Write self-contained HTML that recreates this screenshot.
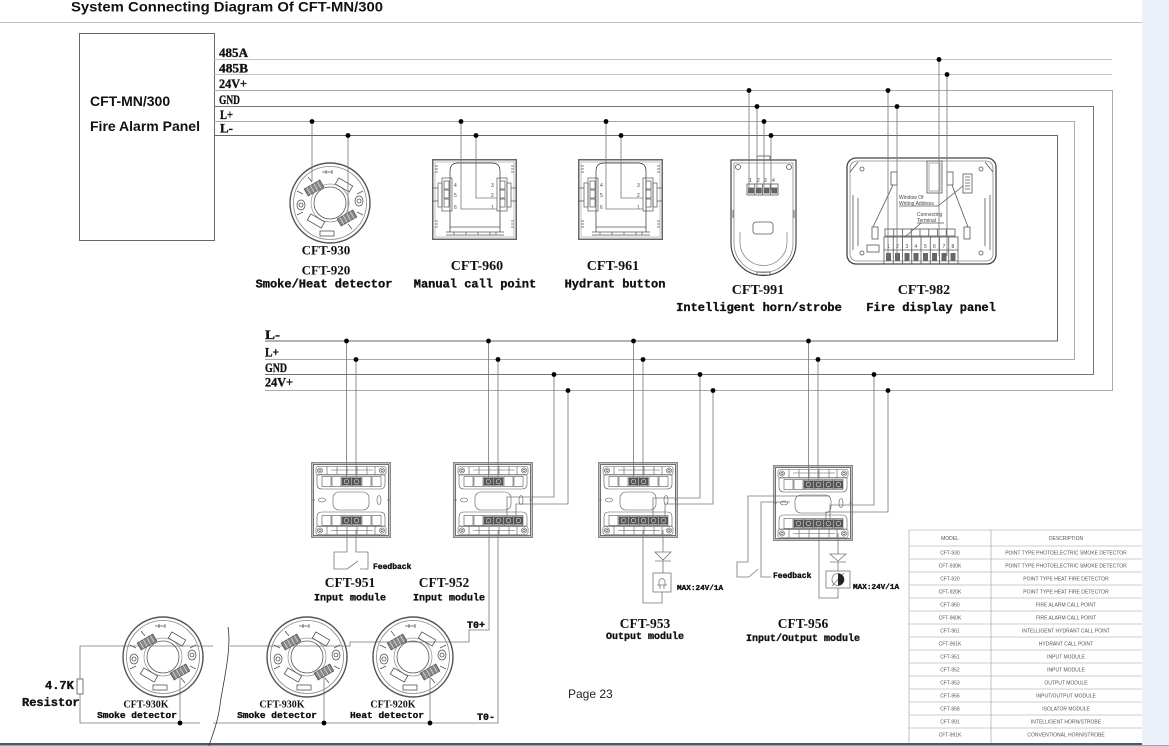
<!DOCTYPE html>
<html><head><meta charset="utf-8"><title>System Connecting Diagram Of CFT-MN/300</title>
<style>
html,body{margin:0;padding:0;background:#fff;width:1169px;height:746px;overflow:hidden}
svg{display:block}
.ar{font-family:"Liberation Sans",Arial,sans-serif;font-weight:bold;fill:#111}
.bus{font-family:"Liberation Serif",serif;font-weight:bold;font-size:13px;fill:#111;stroke:#111;stroke-width:0.35}
.cap{font-family:"Liberation Serif",serif;font-weight:bold;fill:#111;text-anchor:middle}
.mono{font-family:"Liberation Mono",monospace;font-weight:bold;fill:#111;stroke:#111;stroke-width:0.35}
.mid{text-anchor:middle}
.tb{font-family:"Liberation Sans",sans-serif;font-size:5px;fill:#555;text-anchor:middle}
.sm{font-family:"Liberation Sans",sans-serif;font-size:5px;fill:#444}
</style></head><body>
<svg width="1169" height="746" viewBox="0 0 1169 746" xmlns="http://www.w3.org/2000/svg" xmlns:xlink="http://www.w3.org/1999/xlink">
<defs>
 <g id="det" fill="none" stroke="#555" stroke-width="0.8">
  <circle r="40" stroke-width="1.4" stroke="#555"/>
  <circle r="36.5" stroke="#888"/>
  <circle r="19" stroke="#999"/>
  <circle r="16" stroke="#555"/>
  <ellipse cx="-29" cy="2" rx="4" ry="5"/>
  <ellipse cx="29" cy="-2" rx="4" ry="5"/>
  <circle cx="-29" cy="2" r="2"/>
  <circle cx="29" cy="-2" r="2"/>
  <g transform="translate(-16,-15) rotate(-30)"><rect x="-9" y="-4" width="18" height="8" fill="#888"/><path d="M-6,-4V4 M-2,-4V4 M2,-4V4 M6,-4V4" stroke="#ddd"/></g>
  <g transform="translate(17,15) rotate(-30)"><rect x="-9" y="-4" width="18" height="8" fill="#888"/><path d="M-6,-4V4 M-2,-4V4 M2,-4V4 M6,-4V4" stroke="#ddd"/></g>
  <g transform="translate(14,-18) rotate(30)"><rect x="-8" y="-3.5" width="16" height="7"/></g>
  <g transform="translate(-14,18) rotate(30)"><rect x="-8" y="-3.5" width="16" height="7"/></g>
  <path d="M-22,-26 L-18,-21 M22,26 L18,21 M-33,-12 L-27,-9 M33,12 L27,9 M-33,12 L-27,9 M33,-12 L27,-9"/>
  <path d="M-8,-31 H2 M-4,-33 V-29 M2,-33 V-29"/>
  <rect x="-10" y="28" width="14" height="5"/>
 </g>
 <g id="mod" fill="none" stroke="#555" stroke-width="0.6">
  <rect x="0.75" y="0.75" width="78.5" height="74.5" stroke="#8a8a8a" stroke-width="1.5"/>
  <rect x="2.5" y="2.5" width="75" height="71" stroke="#333" stroke-width="0.7"/>
  <rect x="5" y="4.5" width="70" height="8" rx="2"/>
  <circle cx="9" cy="8.5" r="2.6"/><circle cx="9" cy="8.5" r="1.2"/>
  <circle cx="71" cy="8.5" r="2.6"/><circle cx="71" cy="8.5" r="1.2"/>
  <path d="M16,4.5V12.5 M26,4.5V12.5 M36,4.5V12.5 M46,4.5V12.5 M56,4.5V12.5 M64,4.5V12.5 M20,8H62"/>
  <path d="M6,13 H74 V22 Q74,27 69,27 H11 Q6,27 6,22 Z"/>
  <rect x="11" y="14.5" width="9" height="10"/><rect x="21" y="14.5" width="9" height="10"/><rect x="31" y="14.5" width="9" height="10"/><rect x="41" y="14.5" width="9" height="10"/><rect x="51" y="14.5" width="9" height="10"/><rect x="61" y="14.5" width="9" height="10"/>
  <rect x="22" y="30" width="36" height="18" rx="6"/>
  <ellipse cx="11" cy="38" rx="3.5" ry="2"/>
  <ellipse cx="68" cy="38" rx="2" ry="4.5"/>
  <path d="M1,38 H4 M76,38 H79"/>
  <path d="M6,64 H74 V55 Q74,50 69,50 H11 Q6,50 6,55 Z"/>
  <rect x="11" y="53.5" width="9" height="10"/><rect x="21" y="53.5" width="9" height="10"/><rect x="31" y="53.5" width="9" height="10"/><rect x="41" y="53.5" width="9" height="10"/><rect x="51" y="53.5" width="9" height="10"/><rect x="61" y="53.5" width="9" height="10"/>
  <rect x="5" y="64.5" width="70" height="8" rx="2"/>
  <circle cx="9" cy="68.5" r="2.6"/><circle cx="9" cy="68.5" r="1.2"/>
  <circle cx="71" cy="68.5" r="2.6"/><circle cx="71" cy="68.5" r="1.2"/>
  <path d="M16,64.5V72.5 M26,64.5V72.5 M36,64.5V72.5 M46,64.5V72.5 M56,64.5V72.5 M64,64.5V72.5 M20,68.5H62"/>
 </g>
 <g id="tf"><rect x="0" y="0" width="9" height="8" fill="#555"/><circle cx="4.5" cy="4" r="2.3" fill="none" stroke="#ddd" stroke-width="0.6"/></g>
 <g id="cp" fill="none" stroke="#555" stroke-width="0.7">
  <rect x="0.75" y="0.75" width="83.5" height="79.5" stroke="#666" stroke-width="1.5"/>
  <rect x="3" y="3" width="79" height="75" stroke="#999" stroke-width="0.6"/>
  <path d="M18,73 V12 Q18,4 26,4 H60 Q68,4 68,12 V73" stroke="#333"/>
  <path d="M18,68 H68 M14,73 H72 M14,76 H72"/>
  <rect x="10" y="19" width="10" height="33"/>
  <rect x="12" y="22" width="5" height="8"/><rect x="12" y="31" width="5" height="8"/><rect x="12" y="40" width="5" height="8"/>
  <rect x="6" y="24" width="4" height="24"/>
  <rect x="65" y="19" width="10" height="33"/>
  <rect x="68" y="22" width="5" height="8"/><rect x="68" y="31" width="5" height="8"/><rect x="68" y="40" width="5" height="8"/>
  <rect x="75" y="24" width="4" height="24"/>
  <path d="M0,29 H6 M0,42 H6 M79,29 H85 M79,42 H85"/>
  <path d="M3,7H6 M3,10H6 M3,13H6 M79,7H82 M79,10H82 M79,13H82 M3,62H6 M3,65H6 M3,68H6 M79,62H82 M79,65H82 M79,68H82"/>
  <path d="M22,73 V76 M34,73V76 M46,73V76 M58,73V76 M64,73V76"/>
 </g>
</defs>

<!-- right panel and frame lines -->
<rect x="1142" y="0" width="27" height="746" fill="#EBF0F9"/>
<line x1="0" y1="22.5" x2="1142" y2="22.5" stroke="#c3c3c3" stroke-width="1"/>
<rect x="0" y="743" width="1142" height="2" fill="#4b5868"/>
<rect x="0" y="745" width="1169" height="1" fill="#9aa6b4"/>

<text x="71" y="11.5" class="ar" font-size="14" textLength="312" lengthAdjust="spacingAndGlyphs">System Connecting Diagram Of CFT-MN/300</text>

<!-- panel box -->
<rect x="79.5" y="33.5" width="135" height="207" fill="none" stroke="#666" stroke-width="1"/>
<text x="90" y="106" class="ar" font-size="14">CFT-MN/300</text>
<text x="90" y="131" class="ar" font-size="14">Fire Alarm Panel</text>

<!-- bus lines -->
<g fill="none" stroke-width="1">
 <path d="M214,59.5 H1112" stroke="#c4c4c4"/>
 <path d="M214,74.5 H1112" stroke="#c4c4c4"/>
 <path d="M214,90.5 H1112.5 V390.5 H265" stroke="#aaa"/>
 <path d="M214,106.5 H1093.5 V374.5 H265" stroke="#777"/>
 <path d="M214,121.5 H1074.5 V359.5 H265" stroke="#aaa"/>
 <path d="M214,135.5 H1057.5 V341 H265" stroke="#666"/>
</g>
<text x="219" y="57" class="bus" textLength="29" lengthAdjust="spacingAndGlyphs">485A</text>
<text x="219" y="72.5" class="bus" textLength="29" lengthAdjust="spacingAndGlyphs">485B</text>
<text x="219" y="88" class="bus" textLength="28" lengthAdjust="spacingAndGlyphs">24V+</text>
<text x="219" y="104" class="bus" textLength="21" lengthAdjust="spacingAndGlyphs">GND</text>
<text x="220" y="119" class="bus" textLength="13" lengthAdjust="spacingAndGlyphs">L+</text>
<text x="220" y="132.5" class="bus" textLength="13" lengthAdjust="spacingAndGlyphs">L-</text>

<text x="265" y="339" class="bus" textLength="15" lengthAdjust="spacingAndGlyphs">L-</text>
<text x="265" y="356.5" class="bus" textLength="14" lengthAdjust="spacingAndGlyphs">L+</text>
<text x="265" y="372" class="bus" textLength="22" lengthAdjust="spacingAndGlyphs">GND</text>
<text x="265" y="386.5" class="bus" textLength="28" lengthAdjust="spacingAndGlyphs">24V+</text>

<!-- top devices -->
<use xlink:href="#det" href="#det" x="330" y="203"/>
<use xlink:href="#cp" href="#cp" x="432" y="159"/>
<use xlink:href="#cp" href="#cp" x="578" y="159"/>

<g class="sm">
 <text x="454" y="187">4</text><text x="454" y="197">5</text><text x="454" y="209">6</text>
 <text x="491" y="187">3</text><text x="491" y="197">2</text><text x="491" y="209">1</text>
 <text x="600" y="187">4</text><text x="600" y="197">5</text><text x="600" y="209">6</text>
 <text x="637" y="187">3</text><text x="637" y="197">2</text><text x="637" y="209">1</text>
</g>

<!-- horn strobe -->
<g fill="none" stroke="#555" stroke-width="0.8">
 <rect x="757" y="156" width="13" height="4"/>
 <path d="M731,160 H796 V243 A32.5,32.5 0 0 1 731,243 Z" stroke="#444" stroke-width="1.2"/>
 <path d="M734,163 H793 V243 A29.5,29.5 0 0 1 734,243 Z" stroke="#888"/>
 <path d="M740,232 V242 A23.5,23.5 0 0 0 787,242 V232" stroke="#888"/>
 <circle cx="738" cy="167" r="2.5"/><circle cx="789" cy="167" r="2.5"/>
 <rect x="747" y="184" width="31" height="11"/>
 <path d="M754.75,184V195 M762.5,184V195 M770.25,184V195"/>
 <rect x="748.5" y="188" width="5" height="5" fill="#666"/><rect x="756.25" y="188" width="5" height="5" fill="#666"/><rect x="764" y="188" width="5" height="5" fill="#666"/><rect x="771.75" y="188" width="5" height="5" fill="#666"/>
 <rect x="753" y="222" width="20" height="12" rx="3"/>
 <path d="M733,210V218 M794,210V218"/>
 <rect x="757" y="272" width="13" height="3"/>
</g>
<g class="sm"><text x="749" y="182">1</text><text x="757" y="182">2</text><text x="764" y="182">3</text><text x="772" y="182">4</text></g>

<!-- display panel -->
<g fill="none" stroke="#555" stroke-width="0.8">
 <rect x="847" y="158" width="149" height="106" rx="9" stroke="#444" stroke-width="1.3"/>
 <rect x="850" y="161" width="143" height="100" rx="7" stroke="#888"/>
 <path d="M850,172 L858,162 M993,172 L985,162"/>
 <path d="M853,195 V250 M858,198 V246 M990,195 V250 M985,198 V246"/>
 <circle cx="862" cy="169" r="2"/><circle cx="981" cy="169" r="2"/><circle cx="862" cy="253" r="2"/><circle cx="981" cy="253" r="2"/>
 <rect x="927" y="161" width="15" height="32"/>
 <rect x="929" y="163" width="11" height="28" stroke="#999"/>
 <rect x="963" y="174" width="9" height="19"/>
 <path d="M965,177H970 M965,180H970 M965,183H970 M965,186H970 M965,189H970"/>
 <rect x="891" y="172" width="6" height="13"/>
 <rect x="947" y="172" width="6" height="13"/>
 <line x1="893" y1="185" x2="873" y2="227"/>
 <line x1="952" y1="185" x2="968" y2="227"/>
 <rect x="872" y="227" width="6" height="12"/>
 <rect x="964" y="227" width="6" height="12"/>
 <rect x="867" y="245" width="12" height="7"/>
 <rect x="885" y="229" width="70" height="7"/>
 <path d="M893.75,229V236 M902.5,229V236 M911.25,229V236 M920,229V236 M928.75,229V236 M937.5,229V236 M946.25,229V236"/>
 <rect x="884" y="237" width="74" height="27"/>
 <path d="M893.25,237V264 M902.5,237V264 M911.75,237V264 M921,237V264 M930.25,237V264 M939.5,237V264 M948.75,237V264"/>
 <path d="M884,250H958"/>
 <path d="M899,206H938 L963,186 M917,223H944 M921,223 L905,237"/>
</g>
<g fill="#666">
 <rect x="886" y="253" width="5" height="8"/><rect x="895" y="253" width="5" height="8"/><rect x="904.5" y="253" width="5" height="8"/><rect x="913.5" y="253" width="5" height="8"/><rect x="923" y="253" width="5" height="8"/><rect x="932" y="253" width="5" height="8"/><rect x="941.5" y="253" width="5" height="8"/><rect x="950.5" y="253" width="5" height="8"/>
</g>
<g class="sm">
 <text x="899" y="199">Window Of</text>
 <text x="899" y="205">Writing Address</text>
 <text x="917" y="216">Connecting</text>
 <text x="917" y="222">Terminal</text>
 <text x="887" y="248">1</text><text x="896" y="248">2</text><text x="905.5" y="248">3</text><text x="914.5" y="248">4</text><text x="924" y="248">5</text><text x="933" y="248">6</text><text x="942.5" y="248">7</text><text x="951.5" y="248">8</text>
</g>

<!-- top drop wires -->
<g fill="none" stroke="#777" stroke-width="0.8">
 <path d="M312,121.5 V181"/>
 <path d="M348,135.5 V214"/>
 <path d="M461,121.5 V209 H497"/>
 <path d="M476,135.5 V198 H497"/>
 <path d="M606,121.5 V209 H643"/>
 <path d="M621,135.5 V198 H643"/>
 <path d="M749,90.5 V190"/>
 <path d="M757,106.5 V190"/>
 <path d="M764,121.5 V190"/>
 <path d="M771,135.5 V190"/>
 <path d="M888,90.5 V256"/>
 <path d="M897,106.5 V256"/>
 <path d="M939,59.5 V256"/>
 <path d="M947,74.5 V256"/>
</g>
<g fill="#000">
 <circle cx="312" cy="121.5" r="2.4"/><circle cx="348" cy="135.5" r="2.4"/>
 <circle cx="461" cy="121.5" r="2.4"/><circle cx="476" cy="135.5" r="2.4"/>
 <circle cx="606" cy="121.5" r="2.4"/><circle cx="621" cy="135.5" r="2.4"/>
 <circle cx="749" cy="90.5" r="2.4"/><circle cx="757" cy="106.5" r="2.4"/><circle cx="764" cy="121.5" r="2.4"/><circle cx="771" cy="135.5" r="2.4"/>
 <circle cx="888" cy="90.5" r="2.4"/><circle cx="897" cy="106.5" r="2.4"/><circle cx="939" cy="59.5" r="2.4"/><circle cx="947" cy="74.5" r="2.4"/>
</g>

<!-- top captions -->
<text x="326" y="254.5" class="cap" font-size="13">CFT-930</text>
<text x="326" y="274.5" class="cap" font-size="13">CFT-920</text>
<text x="324" y="287.5" class="mono mid" font-size="12">Smoke/Heat detector</text>
<text x="477" y="270" class="cap" font-size="14">CFT-960</text>
<text x="475" y="287.5" class="mono mid" font-size="12">Manual call point</text>
<text x="613" y="270" class="cap" font-size="14">CFT-961</text>
<text x="615" y="287.5" class="mono mid" font-size="12">Hydrant button</text>
<text x="758" y="294" class="cap" font-size="14">CFT-991</text>
<text x="759" y="311" class="mono mid" font-size="12">Intelligent horn/strobe</text>
<text x="924" y="294" class="cap" font-size="14">CFT-982</text>
<text x="931" y="311" class="mono mid" font-size="12">Fire display panel</text>

<!-- modules -->
<use xlink:href="#mod" href="#mod" x="311" y="462"/>
<use xlink:href="#mod" href="#mod" x="453" y="462"/>
<use xlink:href="#mod" href="#mod" x="598" y="462"/>
<use xlink:href="#mod" href="#mod" x="773" y="465"/>
<!-- filled terminals -->
<use href="#tf" xlink:href="#tf" x="342" y="477.5"/><use href="#tf" xlink:href="#tf" x="352" y="477.5"/>
<use href="#tf" xlink:href="#tf" x="342" y="516.5"/><use href="#tf" xlink:href="#tf" x="352" y="516.5"/>
<use href="#tf" xlink:href="#tf" x="484" y="477.5"/><use href="#tf" xlink:href="#tf" x="494" y="477.5"/>
<use href="#tf" xlink:href="#tf" x="484" y="516.5"/><use href="#tf" xlink:href="#tf" x="494" y="516.5"/><use href="#tf" xlink:href="#tf" x="504" y="516.5"/><use href="#tf" xlink:href="#tf" x="514" y="516.5"/>
<use href="#tf" xlink:href="#tf" x="629" y="477.5"/><use href="#tf" xlink:href="#tf" x="639" y="477.5"/>
<use href="#tf" xlink:href="#tf" x="619" y="516.5"/><use href="#tf" xlink:href="#tf" x="629" y="516.5"/><use href="#tf" xlink:href="#tf" x="639" y="516.5"/><use href="#tf" xlink:href="#tf" x="649" y="516.5"/><use href="#tf" xlink:href="#tf" x="659" y="516.5"/>
<use href="#tf" xlink:href="#tf" x="804" y="480.5"/><use href="#tf" xlink:href="#tf" x="814" y="480.5"/><use href="#tf" xlink:href="#tf" x="824" y="480.5"/><use href="#tf" xlink:href="#tf" x="834" y="480.5"/>
<use href="#tf" xlink:href="#tf" x="794" y="519.5"/><use href="#tf" xlink:href="#tf" x="804" y="519.5"/><use href="#tf" xlink:href="#tf" x="814" y="519.5"/><use href="#tf" xlink:href="#tf" x="824" y="519.5"/><use href="#tf" xlink:href="#tf" x="834" y="519.5"/>

<!-- lower drop wires -->
<g fill="none" stroke="#777" stroke-width="0.8">
 <path d="M346.5,341 V481"/><path d="M356,359.5 V481"/>
 <path d="M488.5,341 V481"/><path d="M498,359.5 V481"/>
 <path d="M554,374.5 V497 H507 V518"/><path d="M568,390.5 V504 H516 V518"/>
 <path d="M633.5,341 V481"/><path d="M643,359.5 V481"/>
 <path d="M700,374.5 V498 H653 V518"/><path d="M713,390.5 V504 H665 V518"/>
 <path d="M808.5,341 V484"/><path d="M818,359.5 V484"/>
 <path d="M874,374.5 V505 H830 V520"/><path d="M888,390.5 V512 H826 V520"/>
 <!-- 951 feedback -->
 <path d="M347,530 V552 H334 V569 H347 L358,561"/>
 <path d="M356,530 V552 H368 V569 H360"/>
 <!-- 956 feedback -->
 <path d="M830,496 H748 V562 H737 V577 H749 L758,569"/>
 <path d="M790,502 H761 V577 H771"/>
 <!-- 953 output -->
 <path d="M643,530 V603 H662 V592"/>
 <path d="M663,530 V552 M655,552 H671 L663,560 Z M655,561 H671 M663,561 V573"/>
 <rect x="653" y="573" width="18" height="19"/>
 <path d="M657,585 H667 M659,585 V581 Q662,576 665,581 V585 M660,585 V589 M664,585 V589"/>
 <!-- 956 output -->
 <path d="M819,533 V598 H838 V588"/>
 <path d="M838,533 V554 M830,554 H846 L838,561 Z M830,562 H846 M838,562 V571"/>
 <rect x="826" y="571" width="24" height="17"/>
 <circle cx="838" cy="579.5" r="6"/>
 <path d="M832,586 L844,573"/>
</g>
<path d="M838,573.5 A6,6 0 0 1 838,585.5 Z" fill="#222"/>
<g fill="#000">
 <circle cx="346.5" cy="341" r="2.4"/><circle cx="356" cy="359.5" r="2.4"/>
 <circle cx="488.5" cy="341" r="2.4"/><circle cx="498" cy="359.5" r="2.4"/><circle cx="554" cy="374.5" r="2.4"/><circle cx="568" cy="390.5" r="2.4"/>
 <circle cx="633.5" cy="341" r="2.4"/><circle cx="643" cy="359.5" r="2.4"/><circle cx="700" cy="374.5" r="2.4"/><circle cx="713" cy="390.5" r="2.4"/>
 <circle cx="808.5" cy="341" r="2.4"/><circle cx="818" cy="359.5" r="2.4"/><circle cx="874" cy="374.5" r="2.4"/><circle cx="888" cy="390.5" r="2.4"/>
</g>

<!-- lower captions -->
<text x="373" y="569" class="mono" font-size="8">Feedback</text>
<text x="350" y="587" class="cap" font-size="13.5">CFT-951</text>
<text x="350" y="600.5" class="mono mid" font-size="10">Input module</text>
<text x="444" y="587" class="cap" font-size="13.5">CFT-952</text>
<text x="449" y="600.5" class="mono mid" font-size="10">Input module</text>
<text x="677" y="590" class="mono" font-size="7.7">MAX:24V/1A</text>
<text x="645" y="628" class="cap" font-size="13.5">CFT-953</text>
<text x="645" y="639" class="mono mid" font-size="10">Output module</text>
<text x="773" y="578" class="mono" font-size="8">Feedback</text>
<text x="853" y="589" class="mono" font-size="7.7">MAX:24V/1A</text>
<text x="803" y="628" class="cap" font-size="13.5">CFT-956</text>
<text x="803" y="641" class="mono mid" font-size="10">Input/Output module</text>

<!-- bottom detector loop -->
<g fill="none" stroke="#777" stroke-width="0.8">
 <path d="M489,530 V630 H469 V642 H350 V646 H230"/>
 <path d="M213,646 H80 V679 M80,694 V723 H200"/>
 <path d="M213,723 H498 V530"/>
 <path d="M180,723 V672 M324,723 V672 M430,723 V672"/>
 <rect x="77" y="679" width="6" height="15" stroke="#555"/>
 <path d="M228,627 C232,650 222,688 220,705 C218,722 212,736 209,746" stroke="#333"/>
</g>
<use xlink:href="#det" href="#det" x="163" y="657"/>
<use xlink:href="#det" href="#det" x="307" y="657"/>
<use xlink:href="#det" href="#det" x="413" y="657"/>
<g fill="#000"><circle cx="180" cy="723" r="2.4"/><circle cx="324" cy="723" r="2.4"/><circle cx="430" cy="723" r="2.4"/></g>

<text x="467" y="628" class="mono" font-size="10">T0+</text>
<text x="477" y="720" class="mono" font-size="10">T0-</text>
<text x="45" y="689" class="mono" font-size="12">4.7K</text>
<text x="22" y="706" class="mono" font-size="12">Resistor</text>
<text x="146" y="707.5" class="cap" font-size="10">CFT-930K</text>
<text x="137" y="718" class="mono mid" font-size="9.5">Smoke detector</text>
<text x="282" y="707.5" class="cap" font-size="10">CFT-930K</text>
<text x="277" y="718" class="mono mid" font-size="9.5">Smoke detector</text>
<text x="393" y="707.5" class="cap" font-size="10">CFT-920K</text>
<text x="387" y="718" class="mono mid" font-size="9.5">Heat detector</text>

<text x="568" y="698" font-family="Liberation Sans, Arial, sans-serif" font-size="12" fill="#222">Page 23</text>

<!-- table -->
<g stroke="#999" stroke-width="0.6" fill="none">
 <path d="M909,530 H1142 M909,546 H1142 M909,559 H1142 M909,572 H1142 M909,585 H1142 M909,598 H1142 M909,611 H1142 M909,624 H1142 M909,637 H1142 M909,650 H1142 M909,663 H1142 M909,676 H1142 M909,689 H1142 M909,702 H1142 M909,715 H1142 M909,728 H1142"/>
 <path d="M909,530 V743 M991,530 V743"/>
</g>
<g class="tb">
 <text x="950" y="540">MODEL</text><text x="1066" y="540">DESCRIPTION</text>
 <text x="950" y="554.3">CFT-930</text><text x="1066" y="554.3">POINT TYPE PHOTOELECTRIC SMOKE DETECTOR</text>
 <text x="950" y="567.3">CFT-930K</text><text x="1066" y="567.3">POINT TYPE PHOTOELECTRIC SMOKE DETECTOR</text>
 <text x="950" y="580.3">CFT-920</text><text x="1066" y="580.3">POINT TYPE HEAT FIRE DETECTOR</text>
 <text x="950" y="593.3">CFT-920K</text><text x="1066" y="593.3">POINT TYPE HEAT FIRE DETECTOR</text>
 <text x="950" y="606.3">CFT-960</text><text x="1066" y="606.3">FIRE ALARM CALL POINT</text>
 <text x="950" y="619.3">CFT-960K</text><text x="1066" y="619.3">FIRE ALARM CALL POINT</text>
 <text x="950" y="632.3">CFT-961</text><text x="1066" y="632.3">INTELLIGENT HYDRANT CALL POINT</text>
 <text x="950" y="645.3">CFT-961K</text><text x="1066" y="645.3">HYDRANT CALL POINT</text>
 <text x="950" y="658.3">CFT-951</text><text x="1066" y="658.3">INPUT MODULE</text>
 <text x="950" y="671.3">CFT-952</text><text x="1066" y="671.3">INPUT MODULE</text>
 <text x="950" y="684.3">CFT-953</text><text x="1066" y="684.3">OUTPUT MODULE</text>
 <text x="950" y="697.3">CFT-956</text><text x="1066" y="697.3">INPUT/OUTPUT MODULE</text>
 <text x="950" y="710.3">CFT-958</text><text x="1066" y="710.3">ISOLATOR MODULE</text>
 <text x="950" y="723.3">CFT-991</text><text x="1066" y="723.3">INTELLIGENT HORN/STROBE</text>
 <text x="950" y="736.3">CFT-991K</text><text x="1066" y="736.3">CONVENTIONAL HORN/STROBE</text>
</g>
</svg>
</body></html>
